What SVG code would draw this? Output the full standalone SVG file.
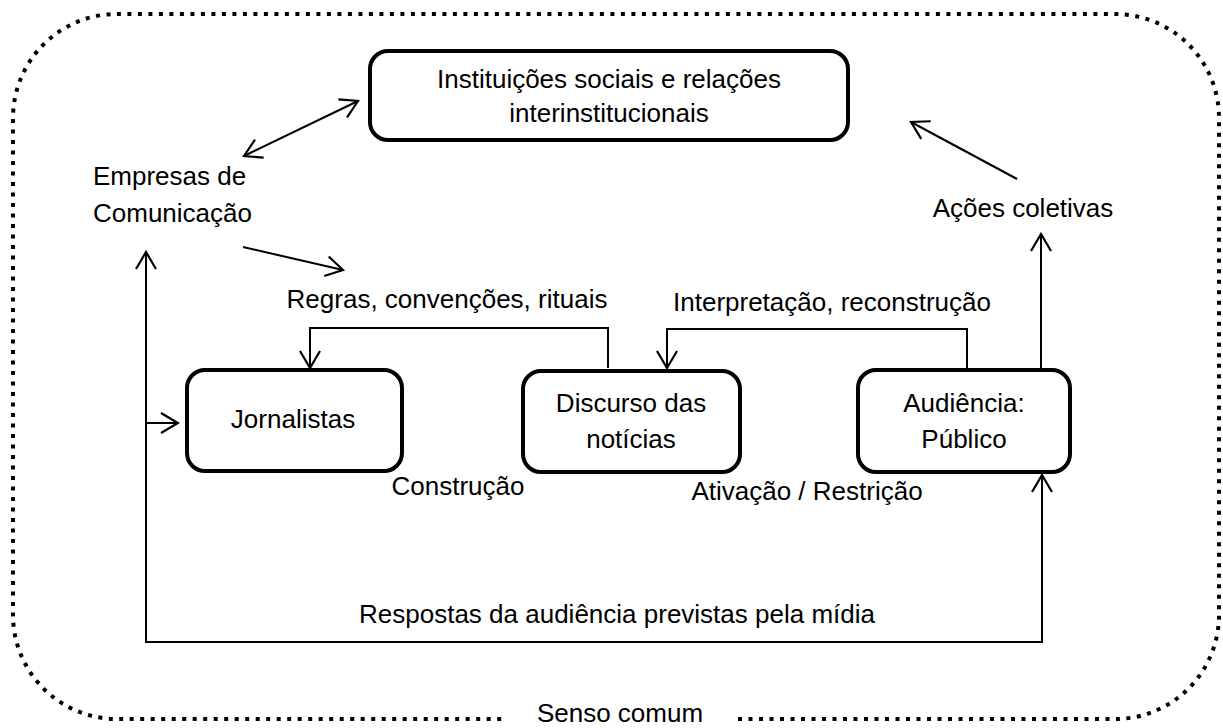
<svg xmlns="http://www.w3.org/2000/svg" width="1223" height="728" viewBox="0 0 1223 728">
<style>
text{font-family:"Liberation Sans",Arial,sans-serif;font-size:26px;fill:#000}
.box{fill:#fff;stroke:#000;stroke-width:4}
.c{fill:none;stroke:#000;stroke-width:2}
.m{text-anchor:middle}
</style>
<defs>
<marker id="ah" viewBox="0 0 20 22" refX="18" refY="11" markerWidth="20" markerHeight="22" markerUnits="userSpaceOnUse" orient="auto-start-reverse">
<path d="M1,1 L18,11 L1,21" fill="none" stroke="#000" stroke-width="2.2"/>
</marker>
</defs>
<rect width="1223" height="728" fill="#fff"/>
<path id="border" d="M738 719 H1115 A104 104 0 0 0 1219 615 V118 A104 104 0 0 0 1115 14 H117 A104 104 0 0 0 13 118 V615 A104 104 0 0 0 117 719 H503" fill="none" stroke="#000" stroke-width="4" stroke-dasharray="4 6.5"/>
<g id="connectors">
<line class="c" x1="244" y1="156" x2="358" y2="101" marker-start="url(#ah)" marker-end="url(#ah)"/>
<line class="c" x1="243" y1="247" x2="343" y2="270" marker-end="url(#ah)"/>
<polyline class="c" points="608,368 608,328 310,328 310,368" marker-end="url(#ah)"/>
<polyline class="c" points="967,370 967,329 667,329 667,368" marker-end="url(#ah)"/>
<line class="c" x1="1041" y1="370" x2="1041" y2="234" marker-end="url(#ah)"/>
<line class="c" x1="1017" y1="179" x2="911" y2="122" marker-end="url(#ah)"/>
<polyline class="c" points="146,642 1042,642 1042,475" marker-end="url(#ah)"/>
<line class="c" x1="146" y1="643" x2="146" y2="252" marker-end="url(#ah)"/>
<line class="c" x1="146" y1="423" x2="178" y2="423" marker-end="url(#ah)"/>
</g>
<g id="instituicoes">
<rect class="box" x="370" y="51" width="478" height="89" rx="18"/>
<text class="m" x="609" y="88">Instituições sociais e relações</text>
<text class="m" x="609" y="122">interinstitucionais</text>
</g>
<g id="jornalistas">
<rect class="box" x="187" y="370" width="215" height="101" rx="18"/>
<text class="m" x="293" y="428">Jornalistas</text>
</g>
<g id="discurso">
<rect class="box" x="523" y="371" width="217" height="101" rx="18"/>
<text class="m" x="631" y="412">Discurso das</text>
<text class="m" x="631" y="448">notícias</text>
</g>
<g id="audiencia">
<rect class="box" x="858" y="370" width="212" height="102" rx="18"/>
<text class="m" x="964" y="412">Audiência:</text>
<text class="m" x="964" y="448">Público</text>
</g>
<g id="labels">
<text x="93" y="185">Empresas de</text>
<text x="93" y="222">Comunicação</text>
<text class="m" x="1023" y="217">Ações coletivas</text>
<text class="m" x="447" y="308">Regras, convenções, rituais</text>
<text class="m" x="832" y="311">Interpretação, reconstrução</text>
<text class="m" x="458" y="495">Construção</text>
<text class="m" x="807" y="500">Ativação / Restrição</text>
<text class="m" x="617" y="623">Respostas da audiência previstas pela mídia</text>
<text class="m" x="620" y="722">Senso comum</text>
</g>
</svg>
